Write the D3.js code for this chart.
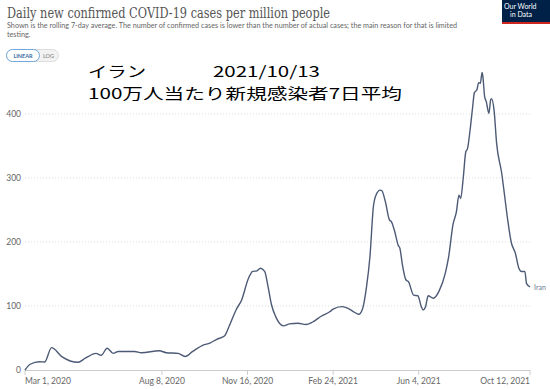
<!DOCTYPE html>
<html>
<head>
<meta charset="utf-8">
<script src="https://cdn.jsdelivr.net/npm/d3@7"></script>
<style>
  body { margin: 0; background: #fff; }
  svg { display: block; }
</style>
</head>
<body>
<div id="chart"></div>
<script>
// Iran, daily new confirmed cases per million (7-day avg)
let dates = ["2020-03-01","2020-03-07","2020-03-18","2020-03-24","2020-04-01","2020-04-13",
  "2020-05-02","2020-05-10","2020-05-23","2020-05-29","2020-06-05","2020-06-12","2020-06-18",
  "2020-07-07","2020-07-15","2020-08-05","2020-08-13","2020-08-27","2020-09-04","2020-09-13",
  "2020-09-25","2020-10-03","2020-10-11","2020-10-20","2020-10-26","2020-11-03","2020-11-09",
  "2020-11-17","2020-11-22","2020-11-27","2020-12-01","2020-12-06","2020-12-10","2020-12-14",
  "2020-12-19","2020-12-28","2021-01-04","2021-01-14","2021-01-23","2021-01-31","2021-02-10",
  "2021-02-20","2021-02-24","2021-03-06","2021-03-12","2021-03-20","2021-03-26","2021-03-30",
  "2021-04-04","2021-04-08","2021-04-12","2021-04-15","2021-04-20","2021-04-22","2021-04-26",
  "2021-05-01","2021-05-03","2021-05-07","2021-05-11","2021-05-13","2021-05-16","2021-05-20",
  "2021-05-23","2021-05-29","2021-06-03","2021-06-07","2021-06-09","2021-06-12","2021-06-15",
  "2021-06-21","2021-06-28","2021-07-05","2021-07-09","2021-07-14","2021-07-18","2021-07-21",
  "2021-07-23","2021-07-26","2021-07-29","2021-07-31","2021-08-03","2021-08-06","2021-08-08",
  "2021-08-11","2021-08-13","2021-08-15","2021-08-17","2021-08-18","2021-08-20","2021-08-22",
  "2021-08-25","2021-08-27","2021-08-28","2021-08-31","2021-09-03","2021-09-09","2021-09-12",
  "2021-09-16","2021-09-20","2021-09-25","2021-09-29","2021-10-02","2021-10-06","2021-10-08",
  "2021-10-12"];
let cases = [0,9,13,12.5,35,21,
  12,18,26,23,34,26,29,
  29,27,30,27,26,21,29,
  39,42,48,53,70,95,109,
  143,154,155,159,154,130,102,
  83,69,72,73,71,75,84,
  91,95,99,97,91,87,94,
  130,177,255,273,281,280,263,
  234,232,216,195,190,164,141,
  138,117,116,99,94,99,116,
  112,124,151,177,227,247,273,
  268,300,341,346,375,411,433,
  438,449,448,465,458,427,419,
  401,422,424,406,354,307,276,
  234,200,182,159,154,154,135,
  130];
let yTicks = [0, 100, 200, 300, 400];
let xTickDates = ["2020-03-01","2020-08-08","2020-11-16","2021-02-24","2021-06-04","2021-10-12"];
let xTickLabels = ["Mar 1, 2020","Aug 8, 2020","Nov 16, 2020","Feb 24, 2021","Jun 4, 2021","Oct 12, 2021"];

const width = 550, height = 389;
const parse = d3.timeParse("%Y-%m-%d");
const data = dates.map((d, i) => ({ date: parse(d), value: cases[i] }));

const svg = d3.select("#chart").append("svg")
    .attr("width", width)
    .attr("height", height)
    .style("font-family", "Lato, 'Noto Sans', sans-serif");

const x = d3.scaleTime()
    .domain([parse("2020-03-01"), parse("2021-10-12")])
    .range([25, 530]);
const y = d3.scaleLinear()
    .domain([0, 400])
    .range([370, 114]);

// header
svg.append("text")
    .attr("x", 7).attr("y", 18)
    .attr("font-family", "'DejaVu Serif', serif")
    .attr("font-size", 15.5)
    .attr("fill", "#555")
    .attr("textLength", 323)
    .attr("lengthAdjust", "spacingAndGlyphs")
    .text("Daily new confirmed COVID-19 cases per million people");
svg.append("text")
    .attr("x", 7).attr("y", 28)
    .attr("font-size", 7.2)
    .attr("fill", "#666")
    .attr("textLength", 450)
    .attr("lengthAdjust", "spacingAndGlyphs")
    .text("Shown is the rolling 7-day average. The number of confirmed cases is lower than the number of actual cases; the main reason for that is limited");
svg.append("text")
    .attr("x", 7).attr("y", 37)
    .attr("font-size", 7.2)
    .attr("fill", "#666")
    .text("testing.");

// LINEAR / LOG toggle
svg.append("rect")
    .attr("x", 6.5).attr("y", 49.5).attr("width", 52).attr("height", 12).attr("rx", 6)
    .attr("fill", "#f2f2f2").attr("stroke", "#ddd");
svg.append("rect")
    .attr("x", 6.5).attr("y", 49.5).attr("width", 33).attr("height", 12).attr("rx", 6)
    .attr("fill", "#fff").attr("stroke", "#6fa8dc");
svg.append("text")
    .attr("x", 23).attr("y", 58).attr("text-anchor", "middle")
    .attr("font-size", 5.5).attr("font-weight", "bold").attr("fill", "#3a6ea5")
    .text("LINEAR");
svg.append("text")
    .attr("x", 48.5).attr("y", 58).attr("text-anchor", "middle")
    .attr("font-size", 5.5).attr("fill", "#777")
    .text("LOG");

// logo (cut off on the right)
svg.append("rect")
    .attr("x", 502).attr("y", 0).attr("width", 48).attr("height", 23)
    .attr("fill", "#002147");
svg.append("rect")
    .attr("x", 502).attr("y", 22).attr("width", 48).attr("height", 2)
    .attr("fill", "#ce261e");
svg.append("text")
    .attr("x", 504).attr("y", 9).attr("font-size", 7).attr("fill", "#fff")
    .text("Our World");
svg.append("text")
    .attr("x", 510).attr("y", 17).attr("font-size", 7).attr("fill", "#fff")
    .text("in Data");

// grid
svg.append("g")
    .selectAll("line")
    .data(yTicks.filter(d => d > 0))
    .join("line")
    .attr("x1", 25).attr("x2", 530)
    .attr("y1", d => y(d)).attr("y2", d => y(d))
    .attr("stroke", "#ddd")
    .attr("stroke-dasharray", "1,2");

svg.append("g")
    .selectAll("text")
    .data(yTicks)
    .join("text")
    .attr("x", 21)
    .attr("y", d => y(d) + 3)
    .attr("text-anchor", "end")
    .attr("font-size", 8.5)
    .attr("fill", "#666")
    .text(d => d);

// x axis
svg.append("line")
    .attr("x1", 25).attr("x2", 530)
    .attr("y1", 370.5).attr("y2", 370.5)
    .attr("stroke", "#ccc");

const xt = svg.append("g")
    .selectAll("g")
    .data(xTickDates.map((d, i) => ({ date: parse(d), label: xTickLabels[i], i: i })))
    .join("g")
    .attr("transform", d => `translate(${x(d.date)},0)`);
xt.append("line")
    .attr("y1", 370).attr("y2", 375)
    .attr("stroke", "#ccc");
xt.append("text")
    .attr("y", 384)
    .attr("font-size", 8.5)
    .attr("fill", "#666")
    .attr("text-anchor", d => d.i === 0 ? "start" : (d.i === xTickDates.length - 1 ? "end" : "middle"))
    .text(d => d.label);

// line
const line = d3.line()
    .x(d => x(d.date))
    .y(d => y(d.value))
    .curve(d3.curveMonotoneX);

svg.append("path")
    .datum(data)
    .attr("d", line)
    .attr("fill", "none")
    .attr("stroke", "#4c5a75")
    .attr("stroke-width", 1.4);

const last = data[data.length - 1];
svg.append("text")
    .attr("x", x(last.date) + 4)
    .attr("y", y(last.value) + 3)
    .attr("font-size", 7)
    .attr("fill", "#6a7890")
    .text("Iran");

// overlay annotation: one text block, two lines
const note = svg.append("text")
    .attr("font-family", "'Noto Sans CJK JP', sans-serif")
    .attr("font-size", 15)
    .attr("fill", "#000");
note.append("tspan")
    .attr("x", 88).attr("y", 76.5)
    .attr("textLength", 58).attr("lengthAdjust", "spacingAndGlyphs")
    .text("イラン");
note.append("tspan")
    .attr("x", 213).attr("y", 76.5)
    .attr("textLength", 107).attr("lengthAdjust", "spacingAndGlyphs")
    .text("2021/10/13");
note.append("tspan")
    .attr("x", 88).attr("y", 98.5)
    .attr("textLength", 314).attr("lengthAdjust", "spacingAndGlyphs")
    .text("100万人当たり新規感染者7日平均");
</script>
</body>
</html>
